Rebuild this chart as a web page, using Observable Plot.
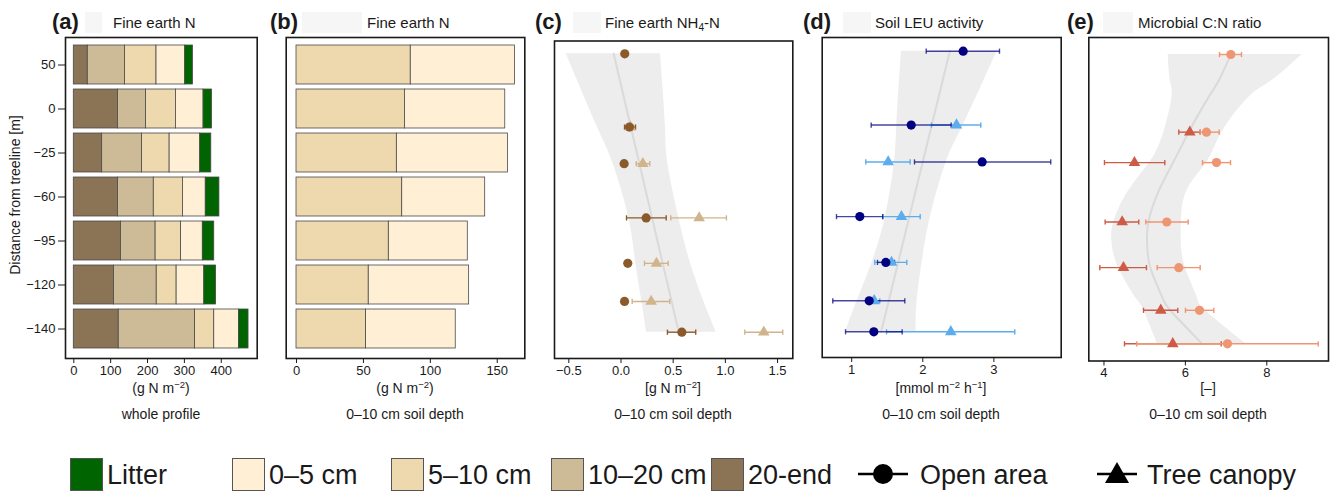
<!DOCTYPE html>
<html><head><meta charset="utf-8">
<script src="https://cdn.jsdelivr.net/npm/d3@7"></script>
<script src="https://cdn.jsdelivr.net/npm/@observablehq/plot@0.6"></script>
<style>
body{margin:0;background:#fff;font-family:"Liberation Sans",Arial,sans-serif;color:#1a1a1a}
#fig{position:relative;width:1330px;height:494px;overflow:hidden;background:#fff}
.abs{position:absolute;white-space:nowrap;line-height:1}
.plab{font-weight:bold;font-size:22px}
.ttl{font-size:15px}
.ax{font-size:14px}
sup{font-size:0.68em;vertical-align:0.5em;line-height:0}
sub{font-size:0.68em;vertical-align:-0.3em;line-height:0}
.leg{font-size:27px}
</style></head>
<body><div id="fig"></div>
<script>
// ---------- data ----------
const distLabels = ["50", "0", "−25", "−60", "−95", "−120", "−140"];
// Fine earth N stocks (g N m-2) per layer, rows top (50 m) to bottom (-140 m)
const nLitter = [21, 23, 30, 37, 31, 32, 26];
const n0_5    = [77.8, 75, 83, 62, 59, 75, 67];
const n5_10   = [85.4, 81, 75, 79, 69, 54, 52];
const n10_20  = [101, 76, 108, 97, 94, 116, 207];
const n20end  = [38, 120, 77, 120, 128, 109, 122];

const layerNames  = ["Litter", "0–5 cm", "5–10 cm", "10–20 cm", "20-end"];
const layerColors = ["#006400", "#FFEFD5", "#EED8AE", "#CDBA96", "#8B7355"];

// point-panel row positions (m)
const posCD = [50, 0, -25, -62, -93, -119, -140];
const posE  = [50, -1, -21, -60, -90, -118, -140];

// (c) Fine earth NH4-N [g N m-2]
const cOpen    = [0.036, 0.081, 0.030, 0.241, 0.065, 0.034, 0.583];
const cOpenLo  = [null, 0.034, null, 0.053, null, null, 0.445];
const cOpenHi  = [null, 0.139, null, 0.433, null, null, 0.716];
const cCan     = [null, 0.090, 0.209, 0.749, 0.340, 0.289, 1.368];
const cCanLo   = [null, 0.060, 0.146, 0.477, 0.225, 0.107, 1.186];
const cCanHi   = [null, 0.120, 0.276, 1.010, 0.452, 0.467, 1.550];
const cRibLo   = [-0.525, -0.226, -0.076, 0.075, 0.142, 0.200, 0.244];
const cRibHi   = [0.378, 0.426, 0.449, 0.554, 0.666, 0.793, 0.912];
const cFitY = [50, -140], cFitX = [-0.07, 0.554];

// (d) Soil LEU activity [mmol m-2 h-1]
const dOpen    = [2.568, 1.837, 2.835, 1.114, 1.480, 1.246, 1.311];
const dOpenLo  = [2.048, 1.274, 1.883, 0.786, 1.363, 0.734, 0.913];
const dOpenHi  = [3.079, 2.399, 3.800, 1.437, 1.602, 1.747, 1.710];
const dCan     = [null, 2.474, 1.513, 1.700, 1.560, 1.316, 2.394];
const dCanLo   = [null, 2.122, 1.198, 1.437, 1.325, 1.240, 1.490];
const dCanHi   = [null, 2.816, 1.822, 1.963, 1.775, 1.395, 3.294];
const dRibLo   = [1.700, 1.634, 1.602, 1.475, 1.288, 1.077, 0.913];
const dRibHi   = [3.046, 2.570, 2.330, 2.108, 1.990, 1.920, 1.905];
const dFitY = [50, -140], dFitX = [2.38, 1.415];

// (e) Microbial C:N ratio [-]
const eOpen    = [7.116, 6.518, 6.764, 5.543, 5.838, 6.346, 7.034];
const eOpenLo  = [6.838, 6.363, 6.420, 5.027, 5.307, 6.002, 4.806];
const eOpenHi  = [7.378, 6.830, 7.108, 6.069, 6.363, 6.698, 9.263];
const eCan     = [null, 6.109, 4.749, 4.447, 4.479, 5.396, 5.690];
const eCanLo   = [null, 5.838, 4.012, 4.029, 3.897, 4.971, 4.504];
const eCanHi   = [null, 6.363, 5.494, 4.855, 5.044, 5.813, 6.880];
const eRibY  = [50, 32.9, 22, -1, -20.3, -39.3, -60.1, -74.3, -90.1, -109.4, -118.1, -140];
const eRibLo = [5.577, 5.63, 5.67, 5.47, 5.14, 4.61, 4.24, 4.20, 4.36, 4.77, 4.98, 5.31];
const eRibHi = [8.87, 8.13, 7.56, 6.90, 6.54, 6.04, 5.90, 5.90, 6.00, 6.29, 6.49, 7.48];
const eFitX  = [7.116, 6.82, 6.57, 6.08, 5.71, 5.35, 5.09, 5.06, 5.14, 5.43, 5.63, 6.41];

// ---------- helpers ----------
const fig = document.getElementById("fig");
const FONT = "'Liberation Sans', Arial, sans-serif";
const baseStyle = {fontFamily: FONT, fontSize: "13px", color: "#1a1a1a", background: "transparent", overflow: "visible"};

function txt(x, y, html, cls, anchor = "start", extra = {}) {
  const d = document.createElement("div");
  d.className = "abs " + (cls || "");
  d.innerHTML = html;
  d.style.left = x + "px";
  d.style.top = y + "px";
  const tx = anchor === "middle" ? "-50%" : anchor === "end" ? "-100%" : "0";
  d.style.transform = `translate(${tx}, -50%)`;
  Object.assign(d.style, extra);
  fig.appendChild(d);
  return d;
}
function box(x, y, w, h, fill, stroke) {
  const d = document.createElement("div");
  d.className = "abs";
  Object.assign(d.style, {left: x + "px", top: y + "px", width: w + "px", height: h + "px", background: fill,
    border: stroke ? "1px solid " + stroke : "none", boxSizing: "border-box"});
  fig.appendChild(d);
}
function place(svg, left) {
  svg.style.position = "absolute";
  svg.style.left = left + "px";
  svg.style.top = "0px";
  fig.appendChild(svg);
}
const capSymbol = {draw(ctx) { ctx.moveTo(0, -2.6); ctx.lineTo(0, 2.6); }};
const minusFmt = (dec) => (v) => (v < 0 ? "−" : "") + Math.abs(v).toFixed(dec);

// ---------- bar panels ----------
const layerVals = {"Litter": nLitter, "0–5 cm": n0_5, "5–10 cm": n5_10, "10–20 cm": n10_20, "20-end": n20end};
const stackA = ["20-end", "10–20 cm", "5–10 cm", "0–5 cm", "Litter"];
const stackB = ["5–10 cm", "0–5 cm"];
const rowsA = distLabels.flatMap((d, i) => stackA.map(L => ({dist: d, layer: L, v: layerVals[L][i]})));
const rowsB = distLabels.flatMap((d, i) => stackB.map(L => ({dist: d, layer: L, v: layerVals[L][i]})));
const yBand = {domain: distLabels, paddingInner: 0.11, paddingOuter: 0.18, align: 0.45};

const pa = Plot.plot({
  width: 262, height: 400, marginLeft: 65, marginRight: 5.3, marginTop: 37, marginBottom: 42,
  style: baseStyle,
  x: {domain: [-22.5, 497.5]},
  y: yBand,
  color: {domain: layerNames, range: layerColors},
  marks: [
    Plot.barX(rowsA, {x: "v", y: "dist", fill: "layer", stroke: "#4a4a4a", strokeWidth: 0.8}),
    Plot.frame({stroke: "#1a1a1a", strokeWidth: 1.6}),
    Plot.axisX({ticks: [0, 100, 200, 300, 400], tickSize: 5, tickPadding: 2, label: null, fontSize: 13}),
    Plot.axisY({tickSize: 7, tickPadding: 3, label: null, fontSize: 13})
  ]
});
place(pa, 0);

const pb = Plot.plot({
  width: 262, height: 400, marginLeft: 15.7, marginRight: 7.7, marginTop: 37, marginBottom: 42,
  style: baseStyle,
  x: {domain: [-7.7, 170.6]},
  y: {...yBand, axis: null},
  color: {domain: layerNames, range: layerColors},
  marks: [
    Plot.barX(rowsB, {x: "v", y: "dist", fill: "layer", stroke: "#4a4a4a", strokeWidth: 0.8}),
    Plot.frame({stroke: "#1a1a1a", strokeWidth: 1.6}),
    Plot.axisX({ticks: [0, 50, 100, 150], tickSize: 5, tickPadding: 2, label: null, fontSize: 13})
  ]
});
place(pb, 270);

// ---------- point panels ----------
function rows(pos, xs, lo, hi) {
  return pos.map((y, i) => ({y, x: xs[i], lo: lo[i], hi: hi[i]})).filter(d => d.x != null);
}
function caps(data) {
  return data.filter(d => d.lo != null).flatMap(d => [{y: d.y, x: d.lo}, {y: d.y, x: d.hi}]);
}
function pointPanel(o) {
  const op = rows(o.pos, o.open, o.openLo, o.openHi);
  const cn = rows(o.pos, o.can, o.canLo, o.canHi);
  const errMarks = (data, col, opac) => [
    Plot.link(data.filter(d => d.lo != null), {x1: "lo", x2: "hi", y1: "y", y2: "y", stroke: col, strokeWidth: 1.4, strokeOpacity: opac}),
    Plot.dot(caps(data), {x: "x", y: "y", symbol: capSymbol, fill: "none", stroke: col, strokeWidth: 1.4, strokeOpacity: opac, r: 3})
  ];
  return Plot.plot({
    width: o.width, height: 400, marginLeft: o.ml, marginRight: o.mr, marginTop: o.mt, marginBottom: o.mb,
    style: baseStyle,
    x: {domain: o.xdom},
    y: {domain: [-140, 50], range: o.yRange, axis: null},
    marks: [
      Plot.areaX(o.rib, {y: "y", x1: "lo", x2: "hi", fill: "#ededed", curve: "natural"}),
      Plot.lineX(o.fit, {x: "x", y: "y", stroke: "#dadada", strokeWidth: 2, curve: "natural"}),
      ...errMarks(cn, o.canCol, 1),
      ...errMarks(op, o.openCol, o.openErrOpacity || 1),
      Plot.dot(cn, {x: "x", y: "y", symbol: "triangle", r: 4.3, fill: o.canCol, stroke: "none"}),
      Plot.dot(op, {x: "x", y: "y", symbol: "circle", r: 4.6, fill: o.openCol, stroke: "none"}),
      Plot.frame({stroke: "#1a1a1a", strokeWidth: 1.6}),
      Plot.axisX({ticks: o.ticks, tickFormat: o.fmt, tickSize: 5, tickPadding: 2, label: null, fontSize: 13})
    ]
  });
}
const ribRows = (ys, lo, hi) => ys.map((y, i) => ({y, lo: lo[i], hi: hi[i]}));
const fitRows = (ys, xs) => ys.map((y, i) => ({y, x: xs[i]}));

place(pointPanel({
  width: 260, ml: 14, mr: 7.7, mt: 40.5, mb: 42, xdom: [-0.637, 1.646], yRange: [331.7, 53.3],
  pos: posCD, open: cOpen, openLo: cOpenLo, openHi: cOpenHi, can: cCan, canLo: cCanLo, canHi: cCanHi,
  openCol: "#8B5A2B", canCol: "#D2B48C",
  rib: ribRows(posCD, cRibLo, cRibHi), fit: fitRows(cFitY, cFitX),
  ticks: [-0.5, 0, 0.5, 1, 1.5], fmt: minusFmt(1)
}), 540);

place(pointPanel({
  width: 252, ml: 9.7, mr: 3.3, mt: 37, mb: 43, xdom: [0.585, 3.947], yRange: [331.3, 50.7],
  pos: posCD, open: dOpen, openLo: dOpenLo, openHi: dOpenHi, can: dCan, canLo: dCanLo, canHi: dCanHi,
  openCol: "#000080", canCol: "#5CACEE", openErrOpacity: 0.72,
  rib: ribRows(posCD, dRibLo, dRibHi), fit: fitRows(dFitY, dFitX),
  ticks: [1, 2, 3], fmt: d3.format("d")
}), 812);

place(pointPanel({
  width: 250, ml: 8.3, mr: 2, mt: 37, mb: 39.5, xdom: [3.627, 9.516], yRange: [343.3, 54],
  pos: posE, open: eOpen, openLo: eOpenLo, openHi: eOpenHi, can: eCan, canLo: eCanLo, canHi: eCanHi,
  openCol: "#EE9572", canCol: "#CD5B45",
  rib: ribRows(eRibY, eRibLo, eRibHi), fit: fitRows(eRibY, eFitX),
  ticks: [4, 6, 8], fmt: d3.format("d")
}), 1080);

// ---------- titles & labels ----------
[[85, 17], [302, 60], [573, 28], [843, 28], [1103, 30]].forEach(([x, w]) => box(x, 12, w, 21, "#f6f6f6"));
const titles = [
  [52, "(a)", 113, "Fine earth N"],
  [270, "(b)", 367, "Fine earth N"],
  [535, "(c)", 605, "Fine earth NH<sub>4</sub>-N"],
  [803, "(d)", 875, "Soil LEU activity"],
  [1067, "(e)", 1138, "Microbial C:N ratio"]
];
titles.forEach(([px, p, tx, t]) => { txt(px, 21.5, p, "plab"); txt(tx, 21.5, t, "ttl"); });

const units = [
  [161, "(g N m<sup>−2</sup>)", "whole profile"],
  [405, "(g N m<sup>−2</sup>)", "0–10 cm soil depth"],
  [673, "[g N m<sup>−2</sup>]", "0–10 cm soil depth"],
  [941, "[mmol m<sup>−2</sup> h<sup>−1</sup>]", "0–10 cm soil depth"],
  [1208, "[–]", "0–10 cm soil depth"]
];
units.forEach(([cx, u, s]) => { txt(cx, 388, u, "ax", "middle"); txt(cx, 414, s, "ax", "middle"); });

const yl = txt(15, 195, "Distance from treeline [m]", "ax", "start");
yl.style.transform = "translate(-50%, -50%) rotate(-90deg)";

// ---------- legend ----------
const legSq = [[70, 0, "Litter"], [232, 1, "0–5 cm"], [391, 2, "5–10 cm"], [551, 3, "10–20 cm"], [711, 4, "20-end"]];
legSq.forEach(([x, i, label]) => {
  box(x, 458, 33, 33, layerColors[i], "#555");
  txt(x + 37, 475, label, "leg");
});
const sym = document.createElementNS("http://www.w3.org/2000/svg", "svg");
sym.setAttribute("width", 1330); sym.setAttribute("height", 494);
Object.assign(sym.style, {position: "absolute", left: "0px", top: "0px", pointerEvents: "none"});
sym.innerHTML = `
  <line x1="858" x2="908" y1="474" y2="474" stroke="#000" stroke-width="2.5"/>
  <circle cx="883" cy="474" r="10" fill="#000"/>
  <line x1="1097" x2="1137" y1="474" y2="474" stroke="#000" stroke-width="2.5"/>
  <path d="M1117,462 L1129,483 L1105,483 Z" fill="#000"/>`;
fig.appendChild(sym);
txt(920, 475, "Open area", "leg");
txt(1147, 475, "Tree canopy", "leg");
</script>
</body></html>
